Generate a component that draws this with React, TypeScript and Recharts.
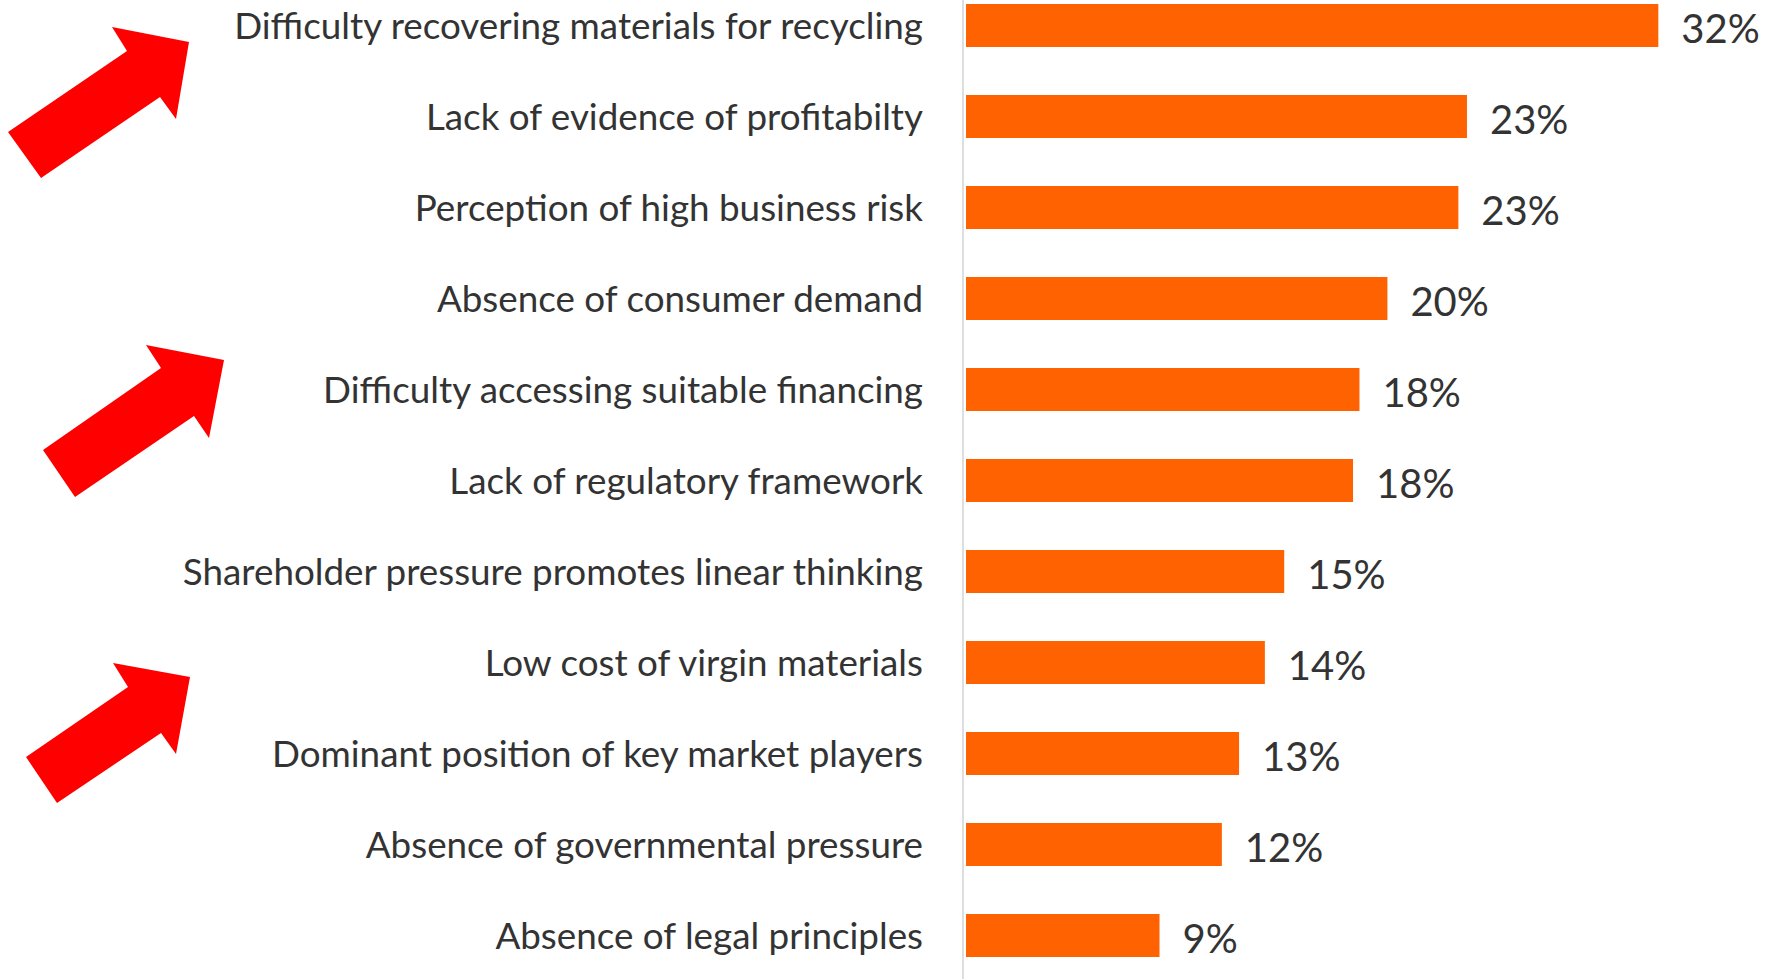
import React from 'react';
import { BarChart, Bar, XAxis, YAxis, LabelList } from 'recharts';

const categories = [
  'Difficulty recovering materials for recycling',
  'Lack of evidence of profitabilty',
  'Perception of high business risk',
  'Absence of consumer demand',
  'Difficulty accessing suitable financing',
  'Lack of regulatory framework',
  'Shareholder pressure promotes linear thinking',
  'Low cost of virgin materials',
  'Dominant position of key market players',
  'Absence of governmental pressure',
  'Absence of legal principles',
];

// bar lengths (in %)
const values = [32.2, 23.3, 22.9, 19.6, 18.3, 18.0, 14.8, 13.9, 12.7, 11.9, 9.0];

// the printed labels
const valueLabels = ['32%', '23%', '23%', '20%', '18%', '18%', '15%', '14%', '13%', '12%', '9%'];

const data = categories.map((name, i) => ({ name, value: values[i], label: valueLabels[i] }));

const FONT = 'Lato, "Open Sans", sans-serif';
const ORANGE = '#ff6200';

// red annotation arrows pasted over the left side
const arrows = [
  '8,132 127,51 112,27 189,42 176,119 160,97 41,178',
  '43,450 161,368 146,345 224,360 209,438 194,416 75,497',
  '26,757 128,687 113,663 190,677 176,754 161,733 57,803',
];

const App: React.FC = () => {
  return (
    <div style={{ position: 'fixed', top: 0, left: 0, width: 1774, height: 979, overflow: 'hidden', background: '#fff' }}>
      <div style={{ marginTop: -20 }}>
        <BarChart
          width={1774}
          height={1001}
          data={data}
          layout="vertical"
          margin={{ top: 0, right: 0, bottom: 0, left: 0 }}
        >
          <XAxis type="number" hide domain={[-0.14, 37.58]} allowDataOverflow />
          <YAxis
            type="category"
            dataKey="name"
            width={963}
            tickLine={false}
            tickSize={0}
            tickMargin={40}
            axisLine={{ stroke: '#dedede', strokeWidth: 2 }}
            tick={{ fill: '#333333', fontSize: 36.8, fontFamily: FONT }}
            interval={0}
          />
          <Bar dataKey="value" fill={ORANGE} barSize={43} isAnimationActive={false}>
            <LabelList
              dataKey="label"
              position="right"
              offset={23}
              fill="#333333"
              fontSize={40}
              fontFamily={FONT}
              dy={3}
            />
          </Bar>
        </BarChart>
      </div>
      <svg width={1774} height={979} style={{ position: 'absolute', top: 0, left: 0, pointerEvents: 'none' }}>
        {arrows.map((pts, i) => (
          <polygon key={i} points={pts} fill="#ff0000" />
        ))}
      </svg>
    </div>
  );
};

export default App;
